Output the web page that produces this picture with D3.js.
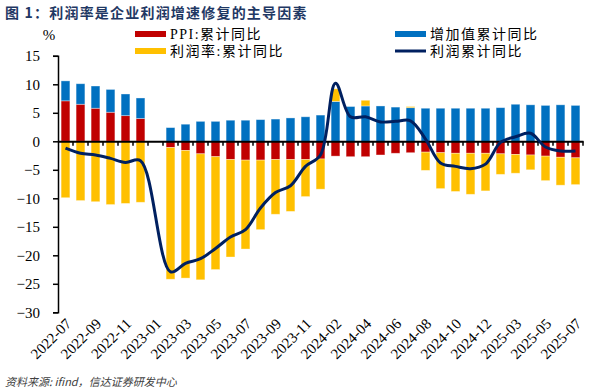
<!DOCTYPE html>
<html><head><meta charset="utf-8">
<script src="https://cdn.jsdelivr.net/npm/d3@7"></script>
<style>
html,body{margin:0;padding:0;background:#fff;}
svg{display:block;}
</style></head>
<body>
<svg id="chart" width="613" height="390"></svg>
<script>
// ---- data ----
const categories = [
  "2022-07","2022-08","2022-09","2022-10","2022-11","2022-12",
  "2023-01","2023-02","2023-03","2023-04","2023-05","2023-06","2023-07","2023-08","2023-09","2023-10","2023-11","2023-12",
  "2024-02","2024-03","2024-04","2024-05","2024-06","2024-07","2024-08","2024-09","2024-10","2024-11","2024-12",
  "2025-02","2025-03","2025-04","2025-05","2025-06","2025-07"
];
const tickLabels = ["2022-07","2022-09","2022-11","2023-01","2023-03","2023-05","2023-07","2023-09","2023-11",
  "2024-02","2024-04","2024-06","2024-08","2024-10","2024-12","2025-03","2025-05","2025-07"];
const ppi = [7.1,6.5,5.8,5.1,4.5,4.0, null, -1.1,-1.6,-2.2,-2.7,-3.2,-3.3,-3.3,-3.2,-3.2,-3.2,-3.1,
  -2.6,-2.7,-2.7,-2.4,-2.1,-2.0,-1.9,-2.0,-2.1,-2.1,-2.1, -2.2,-2.3,-2.4,-2.6,-2.8,-2.9];
const valueAdded = [3.5,3.6,3.9,4.0,3.8,3.6, null, 2.4,3.0,3.5,3.5,3.7,3.7,3.8,3.9,4.1,4.3,4.6,
  7.0,6.1,6.2,6.2,6.0,5.9,5.8,5.8,5.8,5.8,5.8, 5.9,6.5,6.4,6.3,6.4,6.3];
const margin = [-9.9,-10.4,-10.6,-11.1,-10.9,-10.7, null, -23.1,-22.4,-22.1,-19.8,-17.1,-15.6,-12.2,-9.6,-9.1,-6.5,-5.3,
  2.2,0,1.0,0,0,0.2,-3.2,-6.3,-6.7,-7.2,-6.6, -3.6,-3.3,-2.6,-4.3,-4.9,-4.7];
const profit = [-1.2,-2.1,-2.4,-3.0,-3.7,-3.4, null, -22.9,-21.4,-20.6,-18.8,-16.8,-15.5,-11.7,-9.0,-7.8,-4.4,-2.4,
  10.2,4.3,4.3,3.4,3.5,3.6,0.4,-3.8,-4.4,-4.8,-4.0, -0.2,0.8,1.4,-1.0,-1.7,-1.7];
const yTicks = [15,10,5,0,-5,-10,-15,-20,-25,-30];
const seriesNames = ["PPI:累计同比","增加值累计同比","利润率:累计同比","利润累计同比"];
const colors = {ppi:"#C00000", va:"#0070C0", margin:"#FFC000", line:"#002060"};

// ---- chart ----
const svg = d3.select("#chart");
const x = d3.scaleBand().domain(categories).range([58, 583]).paddingInner(0).paddingOuter(0);
const y = d3.scaleLinear().domain([-30, 15]).range([312.3, 55.8]);
const barW = 8.8;

const rows = categories.map((c,i)=>({cat:c, ppi:ppi[i]??0, va:valueAdded[i]??0, margin:margin[i]??0, has: ppi[i]!==null}));
const stack = d3.stack().keys(["ppi","va","margin"]).offset(d3.stackOffsetDiverging);
const stacked = stack(rows);
const colorMap = {ppi:colors.ppi, va:colors.va, margin:colors.margin};

const gBars = svg.append("g");
stacked.forEach(s=>{
  gBars.selectAll(null).data(s.filter(d=>d.data.has && Math.abs(d[1]-d[0])>1e-9)).enter().append("rect")
    .attr("x", d=>x(d.data.cat) + (x.bandwidth()-barW)/2)
    .attr("width", barW)
    .attr("y", d=>y(Math.max(d[0],d[1])))
    .attr("height", d=>Math.abs(y(d[0])-y(d[1])))
    .attr("fill", colorMap[s.key])
    .attr("stroke", "rgba(255,255,255,0.45)")
    .attr("stroke-width", 0.8);
});

// y axis
const gy = svg.append("g").attr("transform","translate(58,0)")
  .call(d3.axisLeft(y).tickValues(yTicks).tickSize(5).tickPadding(13).tickFormat(d3.format("d")));
gy.select(".domain").attr("stroke","#000").attr("stroke-width",1.5);
gy.selectAll(".tick line").attr("stroke","#000").attr("stroke-width",1.5);
gy.selectAll(".tick text").attr("font-family","'Liberation Serif', serif").attr("font-size",15).attr("fill","#000");

// zero axis with ticks
const gx = svg.append("g").attr("transform",`translate(0,${y(0)})`)
  .call(d3.axisBottom(x).tickValues([]).tickSizeOuter(0));
gx.select(".domain").attr("stroke","#000").attr("stroke-width",2);
const bounds = categories.map(c=>x(c)+x.bandwidth());
svg.append("g").selectAll("line").data(bounds).enter().append("line")
  .attr("x1",d=>d).attr("x2",d=>d).attr("y1",y(0)).attr("y2",y(0)+4.5)
  .attr("stroke","#000").attr("stroke-width",1.5);

// x labels at bottom
svg.append("g").selectAll("text").data(tickLabels).enter().append("text")
  .attr("transform", d=>`translate(${x(d)+x.bandwidth()/2+3},${321}) rotate(-45)`)
  .attr("text-anchor","end").attr("dy","0.35em")
  .attr("font-family","'Liberation Serif', serif").attr("font-size",15).attr("fill","#000")
  .text(d=>d);

// profit line
const linePts = categories.map((c,i)=>({cat:c, v:profit[i]})).filter(d=>d.v!==null);
svg.append("path").datum(linePts)
  .attr("d", d3.line().x(d=>x(d.cat)+x.bandwidth()/2).y(d=>y(d.v)).curve(d3.curveCatmullRom.alpha(0.5)))
  .attr("fill","none").attr("stroke",colors.line).attr("stroke-width",3).attr("stroke-linejoin","round");

// title
svg.append("text").attr("x",5).attr("y",18)
  .attr("font-family","'Noto Sans CJK SC', sans-serif").attr("font-weight","bold").attr("font-size",14)
  .attr("fill","#1F3864").attr("letter-spacing",1.2)
  .text("图 1：利润率是企业利润增速修复的主导因素");

// % label
svg.append("text").attr("x",49).attr("y",40).attr("text-anchor","middle")
  .attr("font-family","'Liberation Serif', serif").attr("font-size",15).text("%");

// legend
const fontLeg = "'Liberation Serif', 'Noto Sans CJK SC', serif";
const leg = svg.append("g");
const legItems = [
  {name:seriesNames[0], type:"rect", color:colors.ppi, x:135, y:34},
  {name:seriesNames[2], type:"rect", color:colors.margin, x:135, y:51},
  {name:seriesNames[1], type:"rect", color:colors.va, x:395, y:34},
  {name:seriesNames[3], type:"line", color:colors.line, x:395, y:51}
];
legItems.forEach(it=>{
  if(it.type==="rect"){
    leg.append("rect").attr("x",it.x).attr("y",it.y-3).attr("width",31).attr("height",6).attr("fill",it.color);
  } else {
    leg.append("line").attr("x1",it.x).attr("x2",it.x+31).attr("y1",it.y).attr("y2",it.y)
      .attr("stroke",it.color).attr("stroke-width",3);
  }
  leg.append("text").attr("x",it.x+35).attr("y",it.y).attr("dy","0.35em")
    .attr("font-family",fontLeg).attr("font-size",14).attr("letter-spacing",1.5).attr("fill","#000")
    .text(it.name);
});

// footer
svg.append("text").attr("x",5).attr("y",386)
  .attr("font-family","'Noto Sans CJK SC', sans-serif").attr("font-size",11).attr("font-style","italic")
  .attr("fill","#404040").text("资料来源: ifind，信达证券研发中心");
</script>
</body></html>
